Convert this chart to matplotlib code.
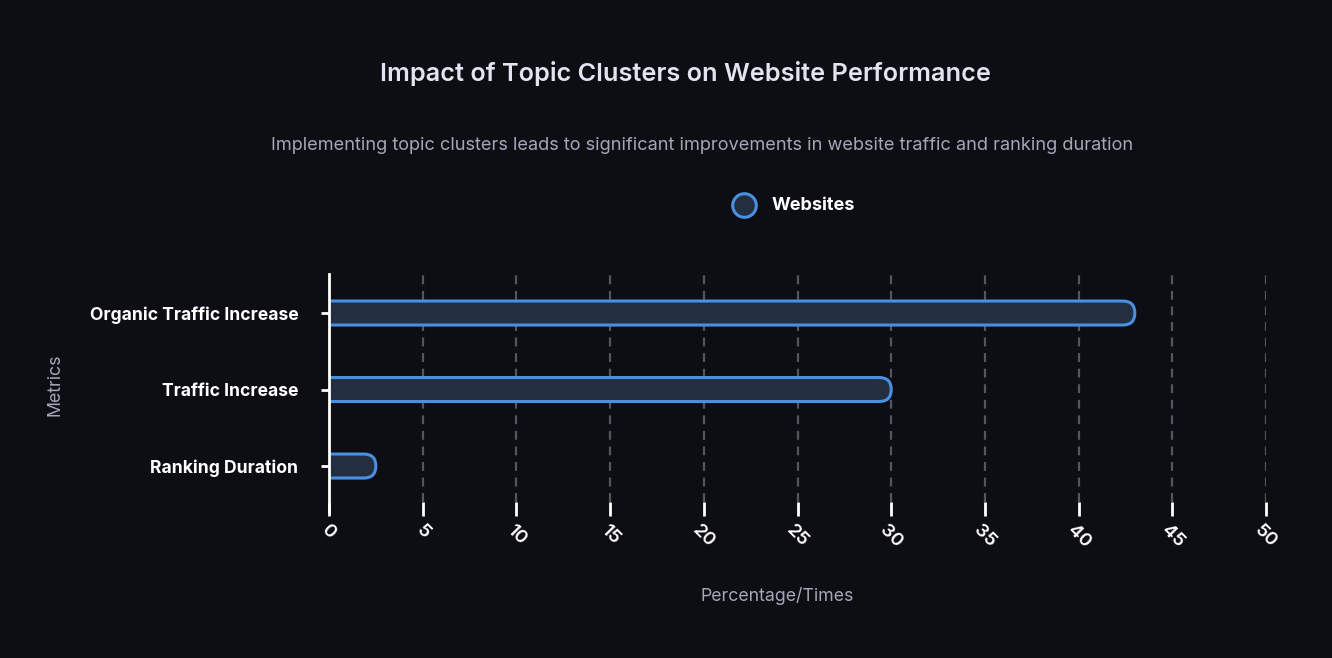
import matplotlib
matplotlib.use('Agg')
import matplotlib.pyplot as plt
from matplotlib.patches import FancyBboxPatch
from matplotlib.lines import Line2D

metrics = ['Organic Traffic Increase', 'Traffic Increase', 'Ranking Duration']
values = [43, 30, 2.5]
x_ticks = [0, 5, 10, 15, 20, 25, 30, 35, 40, 45, 50]

BG = '#0d0d14'
EDGE = '#4a90e2'
FILL = '#232f40'

plt.rcParams['font.family'] = ['Inter', 'DejaVu Sans']

fig = plt.figure(figsize=(13.32, 6.58), dpi=100, facecolor=BG)
W, H = 1332, 658
left, right, top, bottom = 329, 1266, 274, 502
ax = fig.add_axes([left / W, 1 - bottom / H, (right - left) / W, (bottom - top) / H])
ax.set_facecolor(BG)

ax.set_xlim(0, 50)
ax.set_ylim(2.47, -0.51)

# bar geometry: rounded right end, half-height radius
px_x = (right - left) / 50.0
px_y = (bottom - top) / (2.47 + 0.51)
bar_h_px = 24
bar_h = bar_h_px / px_y
radius_x = (bar_h_px / 2) / px_x
aspect = px_x / px_y

for i, v in enumerate(values):
    patch = FancyBboxPatch((-radius_x * 1.5, i - bar_h / 2), v + radius_x * 1.5, bar_h,
                           boxstyle=f'round,pad=0,rounding_size={radius_x}',
                           mutation_aspect=aspect,
                           facecolor=FILL, edgecolor=EDGE, linewidth=2.2, zorder=3)
    ax.add_patch(patch)

ax.set_yticks(range(len(metrics)))
ax.set_yticklabels(metrics, fontsize=12.6, fontweight='bold', color='white')
ax.set_xticks(x_ticks)
ax.set_xticklabels([str(t) for t in x_ticks], rotation=-45, ha='center',
                   fontsize=13.5, fontweight='semibold', color='white')

ax.tick_params(axis='y', length=6, width=2, color='white', pad=16)
ax.tick_params(axis='x', length=10, width=2, color='white', pad=4)
ax.xaxis.grid(True, color='#55555f', linestyle=(0, (4, 3)), linewidth=1.6, zorder=0)

for s in ['top', 'right', 'bottom', 'left']:
    ax.spines[s].set_visible(False)
ax.add_line(Line2D([0, 0], [-0.045, 1], transform=ax.transAxes, color='white',
                   linewidth=2, clip_on=False, zorder=4))

fig.text(685 / W, 1 - 74 / H, 'Impact of Topic Clusters on Website Performance',
         ha='center', va='center', fontsize=18.2, fontweight='semibold', color='#e4e4f0')
fig.text(702 / W, 1 - 146 / H,
         'Implementing topic clusters leads to significant improvements in website traffic and ranking duration',
         ha='center', va='center', fontsize=13.1, color='#a6a6b8')

# legend
fig.add_artist(Line2D([744 / W], [1 - 205 / H], marker='o', markersize=17,
                      markerfacecolor=FILL, markeredgecolor=EDGE, markeredgewidth=2.2,
                      linestyle='none', transform=fig.transFigure))
fig.text(772 / W, 1 - 206 / H, 'Websites', ha='left', va='center',
         fontsize=13, fontweight='bold', color='white')

fig.text(777 / W, 1 - 596 / H, 'Percentage/Times', ha='center', va='center',
         fontsize=12.8, color='#a6a6b8')
fig.text(55 / W, 1 - 385 / H, 'Metrics', ha='center', va='center', rotation=90,
         fontsize=12.8, color='#a6a6b8')

fig.savefig('out.png', dpi=100, facecolor=BG)
